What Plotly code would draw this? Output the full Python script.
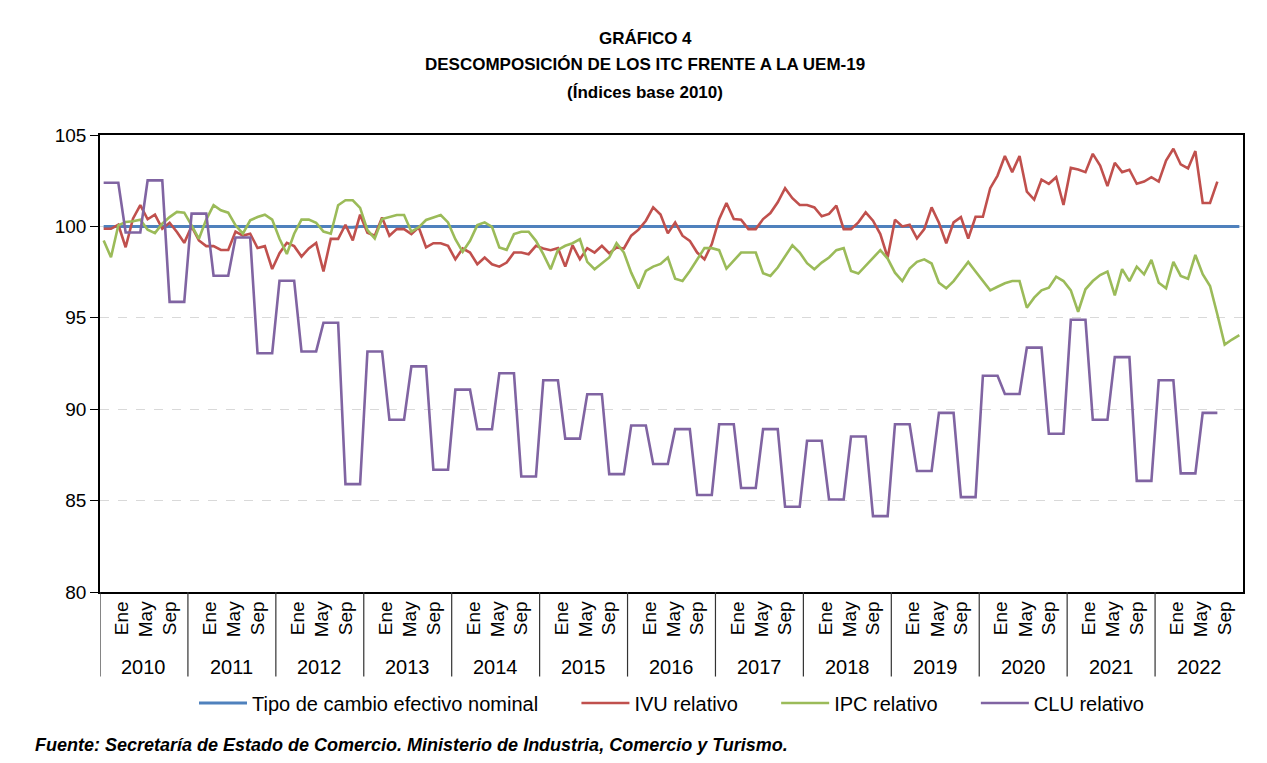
import plotly.graph_objects as go

# ---------------- data ----------------
years = list(range(2010, 2023))
month_ticks = ["Ene", "May", "Sep"]

# Tipo de cambio efectivo nominal (monthly, Jan 2010 - Dec 2022)
tcen = [
    100.0, 100.0, 100.0, 100.0, 100.0, 100.0, 100.0, 100.0, 100.0, 100.0, 100.0, 100.0,
    100.0, 100.0, 100.0, 100.0, 100.0, 100.0, 100.0, 100.0, 100.0, 100.0, 100.0, 100.0,
    100.0, 100.0, 100.0, 100.0, 100.0, 100.0, 100.0, 100.0, 100.0, 99.95, 99.95, 100.0,
    100.0, 100.0, 100.0, 100.0, 100.0, 100.0, 100.0, 100.0, 100.0, 100.0, 100.0, 100.0,
    100.0, 100.0, 100.0, 100.0, 100.0, 100.0, 100.0, 100.0, 100.0, 100.0, 100.0, 100.0,
    100.0, 100.0, 100.0, 100.0, 100.0, 100.0, 100.0, 100.0, 100.0, 100.0, 100.0, 100.0,
    100.0, 100.0, 100.0, 100.0, 100.0, 100.0, 100.0, 100.0, 100.0, 100.0, 100.0, 100.0,
    100.0, 100.0, 100.0, 100.0, 100.0, 100.0, 100.0, 100.0, 100.0, 100.0, 100.0, 100.0,
    100.0, 100.0, 100.0, 100.0, 100.0, 100.0, 100.0, 100.0, 100.0, 100.0, 100.0, 100.0,
    100.0, 100.0, 100.0, 100.0, 100.0, 100.0, 100.0, 100.0, 100.0, 100.0, 100.0, 100.0,
    100.0, 100.0, 100.0, 100.0, 100.0, 100.0, 100.0, 100.0, 100.0, 100.0, 100.0, 100.0,
    100.0, 100.0, 100.0, 100.0, 100.0, 100.0, 100.0, 100.0, 100.0, 100.0, 100.0, 100.0,
    100.0, 100.0, 100.0, 100.0, 100.0, 100.0, 100.0, 100.0, 100.0, 100.0, 100.0, 100.0,
]

# IVU relativo (monthly, Jan 2010 - Sep 2022)
ivu = [
    99.87, 99.87, 100.09, 98.86, 100.42, 101.16, 100.39, 100.64, 99.87, 100.2, 99.69, 99.1,
    100.0, 99.23, 98.92, 98.92, 98.71, 98.71, 99.72, 99.5, 99.6, 98.82, 98.92, 97.67,
    98.53, 99.1, 98.92, 98.35, 98.8, 99.1, 97.54, 99.32, 99.32, 100.09, 99.23, 100.64,
    99.65, 99.49, 100.49, 99.49, 99.85, 99.85, 99.58, 99.95, 98.85, 99.08, 99.08, 98.94,
    98.2, 98.79, 98.57, 97.93, 98.3, 97.93, 97.8, 98.02, 98.57, 98.57, 98.48, 98.94,
    98.79, 98.7, 98.81, 97.8, 98.97, 98.2, 98.81, 98.57, 98.94, 98.53, 98.85, 98.79,
    99.49, 99.82, 100.31, 101.04, 100.65, 99.62, 100.22, 99.49, 99.21, 98.57, 98.2, 99.03,
    100.4, 101.28, 100.4, 100.37, 99.85, 99.85, 100.4, 100.73, 101.32, 102.09, 101.54, 101.17,
    101.17, 101.04, 100.55, 100.68, 101.14, 99.85, 99.85, 100.22, 100.77, 100.31, 99.58, 98.3,
    100.37, 100.0, 100.09, 99.34, 99.85, 101.04, 100.2, 99.08, 100.22, 100.51, 99.34, 100.53,
    100.53, 102.09, 102.78, 103.85, 102.97, 103.85, 101.9, 101.47, 102.56, 102.33, 102.69, 101.17,
    103.2, 103.11, 102.97, 103.97, 103.33, 102.2, 103.48, 102.97, 103.1, 102.33, 102.45, 102.69,
    102.45, 103.6, 104.25, 103.39, 103.17, 104.12, 101.28, 101.28, 102.45,
]

# IPC relativo (monthly, Jan 2010 - Dec 2022)
ipc = [
    99.23, 98.31, 100.06, 100.24, 100.28, 100.37, 99.82, 99.63, 100.15, 100.51, 100.79, 100.75,
    100.06, 99.32, 100.37, 101.16, 100.88, 100.75, 100.06, 99.6, 100.33, 100.51, 100.64, 100.37,
    99.32, 98.49, 99.6, 100.37, 100.37, 100.2, 99.72, 99.6, 101.16, 101.43, 101.43, 101.01,
    99.8, 99.34, 100.4, 100.49, 100.62, 100.62, 99.71, 99.95, 100.35, 100.49, 100.62, 100.22,
    99.3, 98.61, 99.21, 100.07, 100.22, 99.98, 98.85, 98.72, 99.58, 99.71, 99.71, 99.21,
    98.48, 97.66, 98.72, 98.94, 99.08, 99.3, 98.06, 97.66, 97.99, 98.3, 99.08, 98.57,
    97.47, 96.61, 97.56, 97.8, 97.95, 98.3, 97.14, 97.01, 97.56, 98.2, 98.81, 98.81,
    98.7, 97.69, 98.11, 98.57, 98.57, 98.57, 97.44, 97.29, 97.75, 98.39, 98.97, 98.57,
    97.99, 97.66, 98.02, 98.3, 98.7, 98.81, 97.56, 97.42, 97.84, 98.26, 98.7, 98.24,
    97.47, 97.01, 97.69, 98.06, 98.2, 97.97, 96.92, 96.61, 97.01, 97.53, 98.06, 97.53,
    97.01, 96.5, 96.7, 96.89, 97.01, 97.01, 95.55, 96.1, 96.5, 96.65, 97.25, 97.01,
    96.5, 95.33, 96.56, 97.01, 97.34, 97.53, 96.23, 97.66, 97.01, 97.8, 97.38, 98.17,
    96.92, 96.61, 98.06, 97.29, 97.14, 98.44, 97.38, 96.74, 95.18, 93.53, 93.81, 94.05,
]

# CLU relativo (quarterly, 2010Q1 - 2022Q3), drawn monthly
clu_q = [
    102.39, 99.67, 102.52, 95.87,
    100.70, 97.30, 99.39, 93.06,
    97.03, 93.16, 94.73, 85.90,
    93.16, 89.42, 92.34, 86.69,
    91.07, 88.90, 91.97, 86.32,
    91.58, 88.39, 90.82, 86.45,
    89.11, 87.00, 88.91, 85.31,
    89.18, 85.69, 88.91, 84.66,
    88.27, 85.06, 88.51, 84.15,
    89.18, 86.62, 89.80, 85.19,
    91.83, 90.83, 93.37, 88.66,
    94.89, 89.42, 92.85, 86.08,
    91.58, 86.49, 89.80,
]

series_names = ["Tipo de cambio efectivo nominal", "IVU relativo", "IPC relativo", "CLU relativo"]

# ---------------- build ----------------
clu = [v for v in clu_q for _ in range(3)]

def xs(n):
    return list(range(n))

C_BLUE = "#4F81BD"
C_RED = "#C0504D"
C_GREEN = "#9BBB59"
C_PURPLE = "#8064A2"
FONT = "Liberation Sans, Arial, sans-serif"
PAD = "\u00a0" * 6  # spacing between legend entries

fig = go.Figure()
fig.add_trace(go.Scatter(x=xs(len(tcen)), y=tcen, mode="lines", name=series_names[0] + PAD,
                         line=dict(color=C_BLUE, width=3)))
fig.add_trace(go.Scatter(x=xs(len(ivu)), y=ivu, mode="lines", name=series_names[1] + PAD,
                         line=dict(color=C_RED, width=2.6)))
fig.add_trace(go.Scatter(x=xs(len(ipc)), y=ipc, mode="lines", name=series_names[2] + PAD,
                         line=dict(color=C_GREEN, width=2.6)))
fig.add_trace(go.Scatter(x=xs(len(clu)), y=clu, mode="lines", name=series_names[3],
                         line=dict(color=C_PURPLE, width=2.6)))

# x ticks (Ene, May, Sep per year)
offsets = {"Ene": 3.0, "May": 6.3, "Sep": 9.5}
tickvals, ticktext = [], []
for k, y in enumerate(years):
    base = 12 * k - 0.5
    for m in month_ticks:
        tickvals.append(base + offsets[m])
        ticktext.append(m)

shapes = []
annotations = []
for k, y in enumerate(years):
    b = 12 * k - 0.5
    shapes.append(dict(type="line", xref="x", yref="paper", x0=b, x1=b, y0=0, y1=-0.185,
                       line=dict(color="#333333", width=1.2)))
    annotations.append(dict(x=12 * k + 5.5, y=-0.164, xref="x", yref="paper",
                            yanchor="middle", text=str(y), showarrow=False,
                            font=dict(size=20, color="black", family=FONT)))

title_lines = ["<b>GRÁFICO 4</b>",
               "<b>DESCOMPOSICIÓN DE LOS ITC FRENTE A LA UEM-19</b>",
               "<b>(Índices base 2010)</b>"]
for t, yy in zip(title_lines, [1.212, 1.155, 1.094]):
    annotations.append(dict(x=0.477, y=yy, xref="paper", yref="paper", text=t,
                            yanchor="middle", showarrow=False,
                            font=dict(size=17, color="black", family=FONT)))

annotations.append(dict(x=-0.0586, y=-0.335, xref="paper", yref="paper", xanchor="left",
                        yanchor="middle",
                        text="<b><i>Fuente: Secretaría de Estado de Comercio. Ministerio de Industria, Comercio y Turismo.</i></b>",
                        showarrow=False, font=dict(size=18, color="black", family=FONT)))

fig.update_layout(
    width=1267, height=763,
    margin=dict(l=92, r=32, t=127, b=179),
    paper_bgcolor="white", plot_bgcolor="white",
    font=dict(family=FONT, color="black"),
    showlegend=True,
    legend=dict(orientation="h", x=0.5, xanchor="center", y=-0.243, yanchor="middle",
                font=dict(size=20, family=FONT), itemwidth=48, traceorder="normal"),
    shapes=shapes,
    annotations=annotations,
)
fig.update_xaxes(range=[-0.5, 155.5], tickvals=tickvals, ticktext=ticktext, tickangle=-90,
                 ticks="", showgrid=False, zeroline=False, showline=True, linecolor="black",
                 linewidth=1.5, mirror=True, tickfont=dict(size=19, family=FONT))
fig.update_yaxes(range=[80, 105], tickvals=[80, 85, 90, 95, 100, 105], ticks="outside",
                 ticklen=8, tickcolor="black", showgrid=True, gridcolor="#d9d9d9",
                 griddash="dash", gridwidth=1.2, zeroline=False, showline=True,
                 linecolor="black", linewidth=1.5, mirror=True,
                 tickfont=dict(size=19, family=FONT))

fig.write_html("out.html")
